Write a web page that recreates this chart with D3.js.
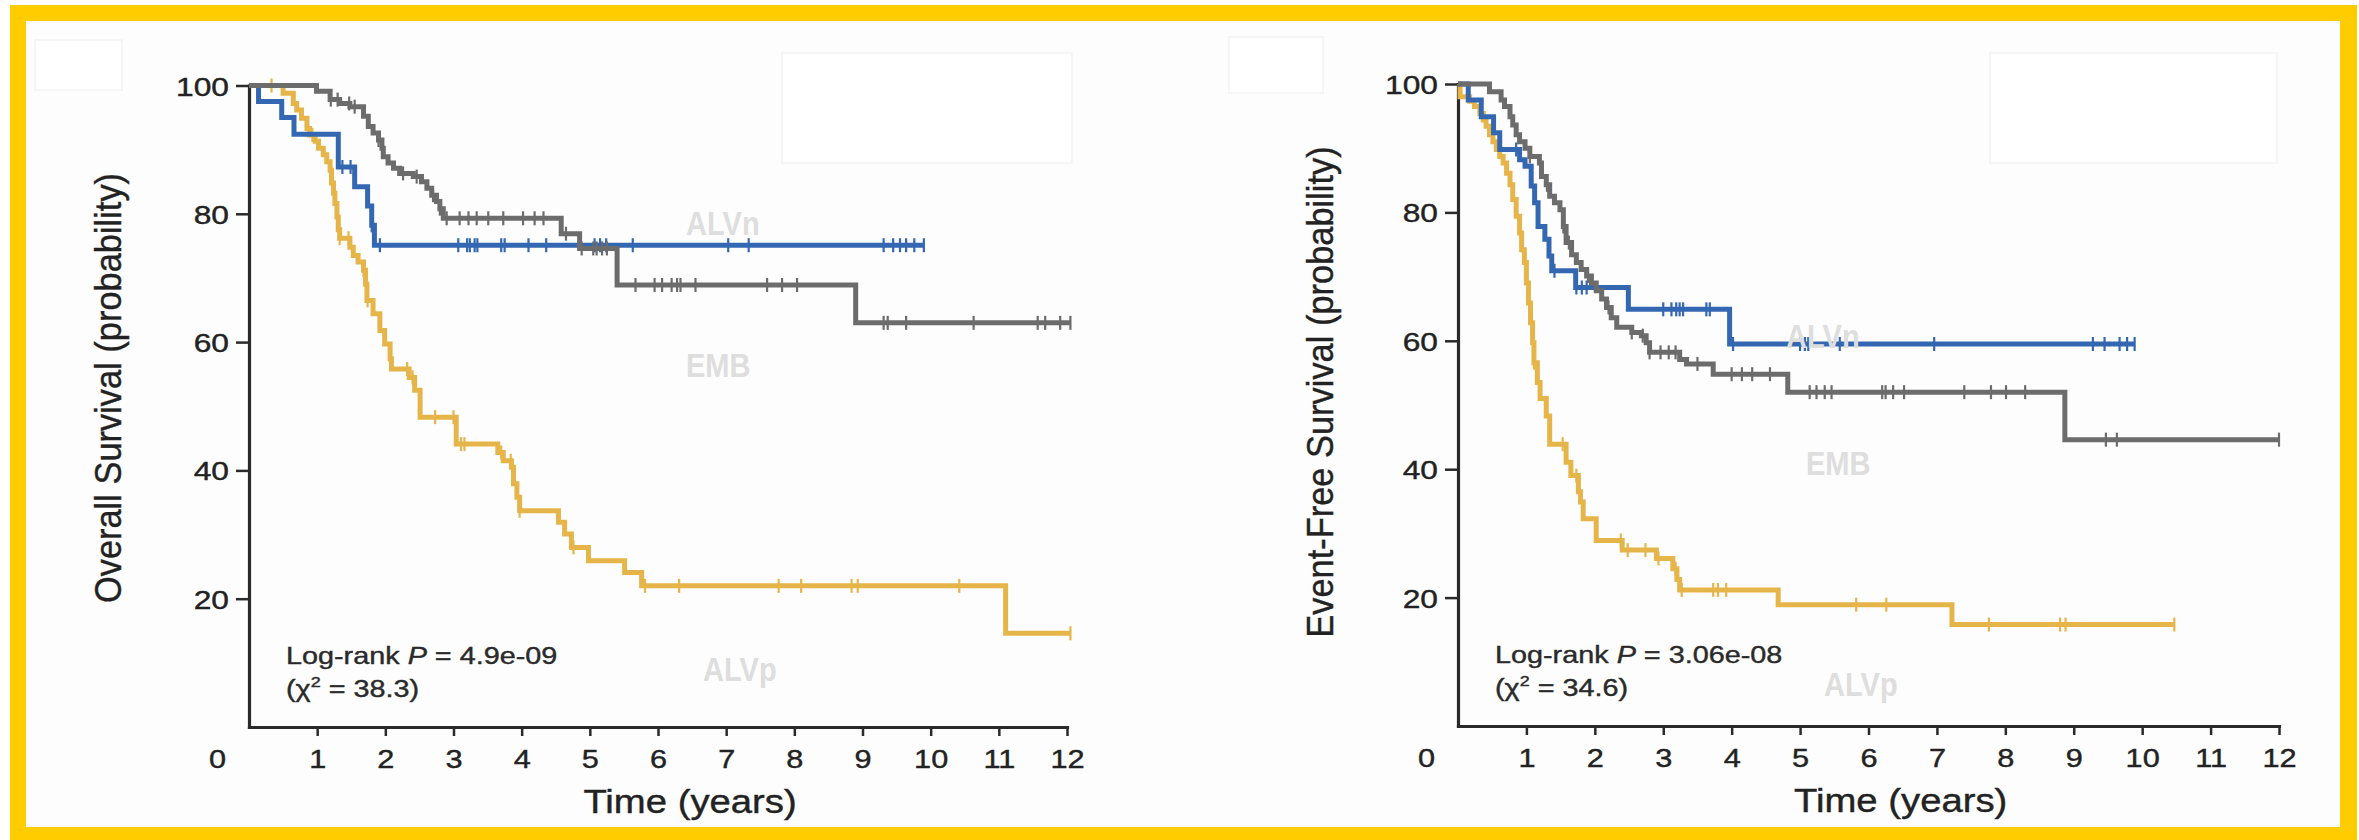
<!DOCTYPE html>
<html>
<head>
<meta charset="utf-8">
<script src="https://cdn.jsdelivr.net/npm/d3@7"></script>
<style>
  html, body { margin: 0; padding: 0; background: #fff; }
  svg { display: block; }
</style>
</head>
<body>
<svg id="chart" width="2359" height="840"></svg>
<script>
// ---- axis ticks ----
const timeTicks = [0, 1, 2, 3, 4, 5, 6, 7, 8, 9, 10, 11, 12];
const survivalTicks = [20, 40, 60, 80, 100];

// ---- Overall survival: [time (years), survival %] at each drop, plus censor times ----
const osAlvpSteps = [[0,100],[0.50,98.8],[0.65,97.2],[0.70,96.2],[0.77,94.9],[0.85,93.3],[0.89,92.3],[0.97,91.3],
  [1.02,90.2],[1.09,89.2],[1.14,88.1],[1.19,86.8],[1.21,84.8],[1.24,83.2],[1.26,81.6],[1.29,79.5],[1.31,77.5],
  [1.33,76.2],[1.48,74.8],[1.53,73.5],[1.60,72.5],[1.68,71.2],[1.71,69.0],[1.73,66.5],[1.82,64.4],[1.92,61.8],
  [1.99,59.7],[2.07,57.4],[2.09,55.8],[2.35,54.5],[2.43,52.5],[2.51,48.3],[3.04,44.1],[3.65,42.8],[3.73,41.5],
  [3.85,40.5],[3.88,37.9],[3.93,35.8],[3.97,33.7],[4.54,31.9],[4.63,30.1],[4.73,28.0],[4.98,25.9],[5.51,24.1],
  [5.76,22.0],[11.1,14.6]];
const osAlvpCensor = [0.33,0.93,1.20,1.33,1.46,1.68,1.74,2.32,2.40,2.73,3.00,3.11,3.16,3.70,3.84,3.97,4.76,
  5.81,6.31,7.77,8.10,8.84,8.93,10.42,12.05];

const osAlvnSteps = [[0,100],[0.14,97.5],[0.48,95.0],[0.66,92.4],[1.31,87.3],[1.55,84.2],[1.74,81.2],[1.80,78.2],[1.84,75.1]];
const osAlvnCensor = [1.37,1.49,1.80,1.92,3.07,3.20,3.24,3.31,3.35,3.70,3.75,4.10,4.36,5.07,5.15,5.24,5.63,
  7.03,7.33,9.31,9.45,9.55,9.64,9.76,9.90];

const osEmbSteps = [[0,100],[0.99,99.1],[1.19,97.8],[1.33,97.2],[1.48,96.7],[1.68,95.2],[1.75,93.6],[1.82,92.6],
  [1.90,91.5],[1.95,90.2],[1.97,88.9],[2.04,87.9],[2.12,87.1],[2.21,86.3],[2.41,85.8],[2.53,85.0],[2.61,84.0],
  [2.68,82.9],[2.75,81.9],[2.80,80.8],[2.85,79.3],[4.58,76.9],[4.85,74.6],[5.40,68.9],[8.90,63.0]];
const osEmbCensor = [1.20,1.30,1.47,1.55,1.90,2.26,2.46,2.70,2.80,2.90,3.09,3.22,3.34,3.51,3.73,4.02,4.19,4.32,
  4.65,4.88,5.05,5.10,5.18,5.25,5.67,5.95,6.06,6.20,6.28,6.33,6.55,7.60,7.82,8.04,9.31,9.37,9.64,10.63,11.57,
  11.68,11.90,12.05];

// ---- Event-free survival ----
const efsAlvpSteps = [[0,100],[0.03,98.0],[0.17,97.3],[0.24,96.5],[0.32,95.4],[0.37,94.4],[0.41,93.4],[0.46,92.1],
  [0.51,91.0],[0.56,89.8],[0.61,88.7],[0.66,87.7],[0.71,86.1],[0.76,84.3],[0.80,82.0],[0.85,79.4],[0.90,76.8],
  [0.93,74.2],[0.97,72.2],[1.00,69.0],[1.03,65.9],[1.06,62.8],[1.09,59.7],[1.11,56.6],[1.16,53.5],[1.20,51.0],
  [1.29,48.3],[1.34,43.9],[1.58,41.1],[1.65,39.0],[1.76,36.5],[1.79,34.9],[1.83,32.3],[2.02,28.9],[2.40,27.4],
  [2.90,26.1],[3.14,24.5],[3.20,22.8],[3.24,21.2],[4.68,18.9],[7.22,15.8]];
const efsAlvpCensor = [1.11,1.53,1.73,2.38,2.48,2.74,2.93,3.18,3.27,3.73,3.80,3.92,5.82,6.26,7.76,8.80,8.88,10.47];

const efsAlvnSteps = [[0,100],[0.15,97.5],[0.34,94.9],[0.52,92.4],[0.61,89.8],[0.90,88.2],[0.98,87.2],[1.07,84.1],
  [1.12,81.5],[1.17,77.8],[1.27,75.8],[1.33,73.2],[1.37,70.9],[1.72,68.3],[2.49,64.9],[3.97,59.5]];
const efsAlvnCensor = [0.85,1.41,1.73,1.81,1.88,3.00,3.12,3.19,3.24,3.29,3.63,3.68,4.02,5.00,5.07,5.12,5.58,
  6.96,9.28,9.45,9.67,9.78,9.89];

const efsEmbSteps = [[0,100],[0.46,98.8],[0.63,97.5],[0.68,96.5],[0.76,94.9],[0.80,93.6],[0.85,92.1],[0.90,91.0],
  [0.98,90.0],[1.05,88.7],[1.19,87.7],[1.22,85.6],[1.29,84.3],[1.34,82.5],[1.41,81.5],[1.49,80.4],[1.54,77.8],
  [1.58,75.3],[1.66,73.4],[1.73,72.2],[1.80,71.1],[1.88,70.1],[1.95,69.0],[2.02,67.8],[2.10,66.5],[2.17,65.2],
  [2.24,63.6],[2.32,62.1],[2.54,61.3],[2.68,60.8],[2.75,59.7],[2.80,58.2],[3.24,57.1],[3.34,56.4],[3.73,54.8],
  [4.82,52.0],[8.87,44.6]];
const efsEmbCensor = [1.05,1.30,1.54,1.62,1.90,2.20,2.54,2.70,2.80,2.96,3.08,3.18,3.50,4.00,4.15,4.30,4.56,
  5.14,5.24,5.36,5.46,6.20,6.25,6.36,6.52,7.40,7.79,8.01,8.29,9.47,9.63,12.0];

// ---- text ----
const groupNames = ["ALVn", "EMB", "ALVp"];
const yTitles = ["Overall Survival (probability)", "Event-Free Survival (probability)"];
const xTitle = "Time (years)";
const pValues = ["4.9e-09", "3.06e-08"];
const chiSquares = ["38.3", "34.6"];

const colors = { ALVp: "#e6b54a", ALVn: "#3467b2", EMB: "#6c6c6c" };
const FONT = "'Liberation Sans', Arial, Helvetica, sans-serif";
const INK = "#222";

const svg = d3.select("#chart");

// page frame
svg.append("rect").attr("width", 2359).attr("height", 840).attr("fill", "#fff");
svg.append("rect").attr("x", 10).attr("y", 5).attr("width", 2347).attr("height", 835).attr("fill", "#ffcc00");
svg.append("rect").attr("x", 26).attr("y", 21).attr("width", 2314).attr("height", 806).attr("fill", "#fdfdfd");

// faint patches left over from removed legend boxes
[[35, 40, 87, 50], [782, 53, 290, 110], [1229, 37, 94, 56], [1990, 53, 287, 110]].forEach(r => {
  svg.append("rect").attr("x", r[0]).attr("y", r[1]).attr("width", r[2]).attr("height", r[3])
    .attr("fill", "#ffffff").attr("stroke", "#f3f3f3").attr("stroke-width", 1.5);
});

const panels = [
  { x0: 249, x12: 1067, y0: 727, y100: 85.5, title: yTitles[0], titleX: 121, titleY: 388, titleScale: 0.93,
    p: pValues[0], chi: chiSquares[0],
    series: [
      { name: "ALVp", steps: osAlvpSteps, censor: osAlvpCensor },
      { name: "ALVn", steps: osAlvnSteps, censor: osAlvnCensor },
      { name: "EMB", steps: osEmbSteps, censor: osEmbCensor }],
    labels: { ALVn: [686, 235], EMB: [686, 377], ALVp: [703, 681] } },
  { x0: 1458, x12: 2279, y0: 726, y100: 84, title: yTitles[1], titleX: 1333, titleY: 392, titleScale: 0.93,
    p: pValues[1], chi: chiSquares[1],
    series: [
      { name: "ALVp", steps: efsAlvpSteps, censor: efsAlvpCensor },
      { name: "ALVn", steps: efsAlvnSteps, censor: efsAlvnCensor },
      { name: "EMB", steps: efsEmbSteps, censor: efsEmbCensor }],
    labels: { ALVn: [1786, 348], EMB: [1806, 475], ALVp: [1824, 696] } }
];

function survivalAt(steps, t) {
  let v = steps[0][1];
  for (const s of steps) { if (s[0] <= t) v = s[1]; }
  return v;
}

// slightly heavier ink for printed-looking text
function ink(sel, color) {
  return sel.attr("fill", color).attr("stroke", color).attr("stroke-width", 0.4);
}

panels.forEach(p => {
  const x = d3.scaleLinear().domain([0, 12]).range([p.x0, p.x12]);
  const y = d3.scaleLinear().domain([0, 100]).range([p.y0, p.y100]);
  const g = svg.append("g");

  // x axis
  const gx = g.append("g").attr("transform", `translate(0,${p.y0})`)
    .call(d3.axisBottom(x).tickValues(timeTicks).tickSize(9).tickSizeOuter(0).tickFormat(d3.format("d")));
  gx.select(".domain").attr("stroke", "#2a2a2a").attr("stroke-width", 3.2).attr("stroke-linecap", "square");
  gx.selectAll(".tick line").attr("stroke", "#2a2a2a").attr("stroke-width", 2.5);
  gx.selectAll(".tick").filter(d => d === 0).select("line").remove();
  ink(gx.selectAll(".tick text"), INK)
    .attr("y", null).attr("dy", null)
    .attr("font-family", FONT).attr("font-size", 26).attr("text-anchor", "middle")
    .attr("transform", d => `translate(${d === 0 ? -32 : 0},41) scale(1.18,1)`);

  // y axis
  const gy = g.append("g").attr("transform", `translate(${p.x0},0)`)
    .call(d3.axisLeft(y).tickValues(survivalTicks).tickSize(13).tickSizeOuter(0));
  gy.select(".domain").attr("stroke", "#2a2a2a").attr("stroke-width", 3.2).attr("stroke-linecap", "square");
  gy.selectAll(".tick line").attr("stroke", "#2a2a2a").attr("stroke-width", 2.5);
  ink(gy.selectAll(".tick text"), INK)
    .attr("x", null).attr("dy", null)
    .attr("font-family", FONT).attr("font-size", 26).attr("text-anchor", "end")
    .attr("transform", "translate(-20,9.5) scale(1.22,1)");

  // axis titles
  ink(g.append("text"), INK).text(xTitle)
    .attr("transform", `translate(${x(6.47)},${p.y0 + 86}) scale(1.16,1)`)
    .attr("text-anchor", "middle").attr("font-family", FONT).attr("font-size", 33);
  ink(g.append("text"), INK).text(p.title)
    .attr("transform", `translate(${p.titleX},${p.titleY}) rotate(-90) scale(${p.titleScale},1)`)
    .attr("text-anchor", "middle").attr("font-family", FONT).attr("font-size", 37);

  // log-rank annotation
  const t1 = ink(g.append("text"), "#2a2a2a")
    .attr("transform", `translate(${p.x0 + 37},${p.y0 - 63}) scale(1.2,1)`)
    .attr("font-family", FONT).attr("font-size", 24);
  t1.append("tspan").text("Log-rank ");
  t1.append("tspan").attr("font-style", "italic").text("P");
  t1.append("tspan").text(" = " + p.p);
  const t2 = ink(g.append("text"), "#2a2a2a")
    .attr("transform", `translate(${p.x0 + 37},${p.y0 - 30}) scale(1.2,1)`)
    .attr("font-family", FONT).attr("font-size", 24);
  t2.append("tspan").text("(\u03C7");
  t2.append("tspan").attr("font-size", 15).attr("dy", -10).text("2");
  t2.append("tspan").attr("dy", 10).text(" = " + p.chi + ")");

  // survival curves with censor marks
  const line = d3.line().curve(d3.curveStepAfter).x(d => x(d[0])).y(d => y(d[1]));
  p.series.forEach(s => {
    const last = s.steps[s.steps.length - 1];
    const end = Math.max(last[0], d3.max(s.censor));
    const pts = s.steps.concat([[end, last[1]]]);
    const c = colors[s.name];
    g.append("path").datum(pts).attr("d", line)
      .attr("fill", "none").attr("stroke", c).attr("stroke-width", 5)
      .attr("stroke-linejoin", "miter");
    g.append("g").selectAll("line").data(s.censor).join("line")
      .attr("x1", d => x(d)).attr("x2", d => x(d))
      .attr("y1", d => y(survivalAt(s.steps, d)) - 7)
      .attr("y2", d => y(survivalAt(s.steps, d)) + 7)
      .attr("stroke", c).attr("stroke-width", 2.2);
  });

  // group names, faint, laid over the curves
  groupNames.forEach(n => {
    const pos = p.labels[n];
    g.append("text").text(n)
      .attr("transform", `translate(${pos[0]},${pos[1]}) scale(0.88,1)`)
      .attr("font-family", FONT).attr("font-weight", "bold").attr("font-size", 33)
      .attr("fill", "#dedede");
  });
});
</script>
</body>
</html>
